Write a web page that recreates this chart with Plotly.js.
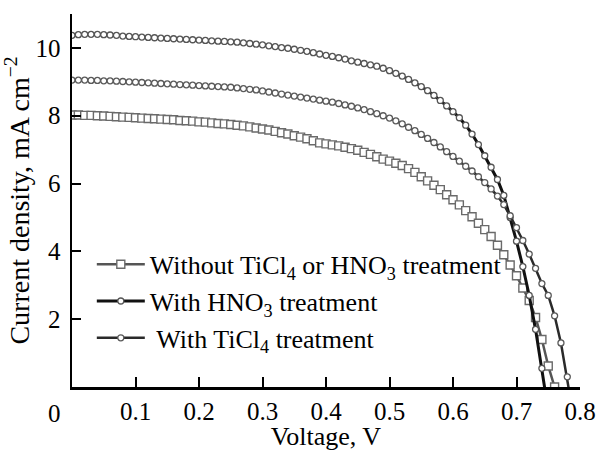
<!DOCTYPE html>
<html>
<head>
<meta charset="utf-8">
<script src="https://cdn.plot.ly/plotly-3.0.1.min.js"></script>
<style>html,body{margin:0;padding:0;background:#fff;}#chart{width:597px;height:451px;}</style>
</head>
<body>
<div id="chart"></div>
<script>
const voltage = [0.00,0.01,0.02,0.03,0.04,0.05,0.06,0.07,0.08,0.09,
  0.10,0.11,0.12,0.13,0.14,0.15,0.16,0.17,0.18,0.19,
  0.20,0.21,0.22,0.23,0.24,0.25,0.26,0.27,0.28,0.29,
  0.30,0.31,0.32,0.33,0.34,0.35,0.36,0.37,0.38,0.39,
  0.40,0.41,0.42,0.43,0.44,0.45,0.46,0.47,0.48,0.49,
  0.50,0.51,0.52,0.53,0.54,0.55,0.56,0.57,0.58,0.59,
  0.60,0.61,0.62,0.63,0.64,0.65,0.66,0.67,0.68,0.69,
  0.70,0.71,0.72,0.73,0.74,0.75,0.76,0.77,0.78,0.79];

const jWithout = [8.02,8.02,8.01,8.01,8.00,7.99,7.98,7.97,7.96,7.95,
  7.94,7.93,7.92,7.91,7.90,7.89,7.88,7.86,7.85,7.84,
  7.82,7.81,7.79,7.77,7.76,7.74,7.72,7.70,7.67,7.64,
  7.61,7.58,7.54,7.50,7.46,7.41,7.37,7.32,7.26,7.20,
  7.17,7.14,7.11,7.07,7.03,6.98,6.92,6.86,6.79,6.72,
  6.66,6.60,6.53,6.44,6.33,6.20,6.08,5.95,5.82,5.67,
  5.52,5.37,5.20,5.02,4.83,4.64,4.44,4.18,3.90,3.60,
  3.28,2.92,2.55,2.05,1.40,0.62,0.00];

const jHNO3 = [10.37,10.39,10.40,10.40,10.40,10.39,10.38,10.37,10.35,10.34,
  10.33,10.32,10.31,10.30,10.29,10.28,10.27,10.26,10.25,10.24,
  10.23,10.22,10.21,10.20,10.19,10.18,10.17,10.15,10.13,10.11,
  10.09,10.06,10.04,10.01,9.99,9.96,9.93,9.90,9.86,9.82,
  9.78,9.75,9.71,9.67,9.62,9.58,9.54,9.50,9.46,9.40,
  9.33,9.25,9.17,9.07,8.97,8.86,8.74,8.60,8.45,8.29,
  8.12,7.94,7.72,7.46,7.15,6.82,6.48,6.12,5.65,5.00,
  4.30,3.55,2.70,1.70,0.55,-0.70];

const jTiCl4 = [9.05,9.05,9.05,9.04,9.04,9.03,9.03,9.02,9.01,9.00,
  8.99,8.98,8.97,8.96,8.95,8.94,8.93,8.92,8.91,8.90,
  8.89,8.88,8.87,8.86,8.85,8.84,8.82,8.80,8.78,8.76,
  8.73,8.70,8.67,8.64,8.61,8.58,8.55,8.52,8.49,8.46,
  8.43,8.40,8.36,8.32,8.28,8.23,8.18,8.12,8.06,8.00,
  7.93,7.85,7.76,7.66,7.56,7.45,7.33,7.21,7.08,6.94,
  6.80,6.66,6.51,6.37,6.20,6.03,5.84,5.63,5.38,5.05,
  4.70,4.32,3.92,3.50,3.05,2.70,2.10,1.30,0.30,-0.90];

const seriesNames = [
  'Without TiCl<sub>4</sub> or HNO<sub>3</sub> treatment',
  'With HNO<sub>3</sub> treatment',
  '&nbsp;With TiCl<sub>4</sub> treatment'
];
const xTickVals = [0.1,0.2,0.3,0.4,0.5,0.6,0.7,0.8];
const xTickText = ['0.1','0.2','0.3','0.4','0.5','0.6','0.7','0.8'];
const yTickVals = [2,4,6,8,10];

const font = 'Liberation Serif, Times New Roman, serif';

const traces = [
  {
    x: voltage.slice(0, jWithout.length), y: jWithout, name: seriesNames[0],
    mode: 'lines+markers', type: 'scatter',
    line: {color: '#555555', width: 2.5},
    marker: {symbol: 'square', size: 8, color: '#ffffff', line: {width: 1.4, color: '#6a6a6a'}}
  },
  {
    x: voltage.slice(0, jHNO3.length), y: jHNO3, name: seriesNames[1],
    mode: 'lines+markers', type: 'scatter',
    line: {color: '#111111', width: 3},
    marker: {symbol: 'circle', size: 6, color: '#ffffff', line: {width: 1.3, color: '#555555'}}
  },
  {
    x: voltage.slice(0, jTiCl4.length), y: jTiCl4, name: seriesNames[2],
    mode: 'lines+markers', type: 'scatter',
    line: {color: '#2a2a2a', width: 2.5},
    marker: {symbol: 'circle', size: 6, color: '#ffffff', line: {width: 1.3, color: '#5a5a5a'}}
  }
];

const layout = {
  width: 597, height: 451,
  margin: {l: 72, r: 17, t: 14, b: 64},
  paper_bgcolor: '#ffffff', plot_bgcolor: '#ffffff',
  font: {family: font, size: 24, color: '#000'},
  showlegend: true,
  legend: {
    x: 0.039, y: 0.392, xanchor: 'left', yanchor: 'top',
    bgcolor: 'rgba(0,0,0,0)', borderwidth: 0,
    font: {family: font, size: 26, color: '#000'},
    tracegroupgap: 0, itemwidth: 48
  },
  xaxis: {
    range: [0, 0.8], tickmode: 'array', tickvals: xTickVals, ticktext: xTickText,
    ticks: 'inside', ticklen: 10, tickwidth: 2, tickcolor: '#000',
    showline: true, linewidth: 2.5, linecolor: '#000', mirror: false,
    showgrid: false, zeroline: false,
    tickfont: {family: font, size: 25, color: '#000'},
    title: {text: 'Voltage, V', font: {family: font, size: 26, color: '#000'}, standoff: 8},
    automargin: false
  },
  yaxis: {
    range: [0, 11], tickmode: 'array', tickvals: yTickVals,
    ticks: 'inside', ticklen: 9, tickwidth: 2, tickcolor: '#000',
    showline: true, linewidth: 2.5, linecolor: '#000', mirror: false,
    showgrid: false, zeroline: false,
    ticklabelstandoff: 4,
    tickfont: {family: font, size: 25, color: '#000'},
    title: {text: 'Current density, mA cm<sup>\u22122</sup>', font: {family: font, size: 28, color: '#000'}, standoff: 0},
    automargin: false
  },
  annotations: [
    {text: '0', xref: 'paper', yref: 'paper', x: -0.034, y: 0, yshift: -26,
     showarrow: false, xanchor: 'center', yanchor: 'middle',
     font: {family: font, size: 25, color: '#000'}}
  ]
};

Plotly.newPlot('chart', traces, layout, {displayModeBar: false, staticPlot: true});
</script>
</body>
</html>
